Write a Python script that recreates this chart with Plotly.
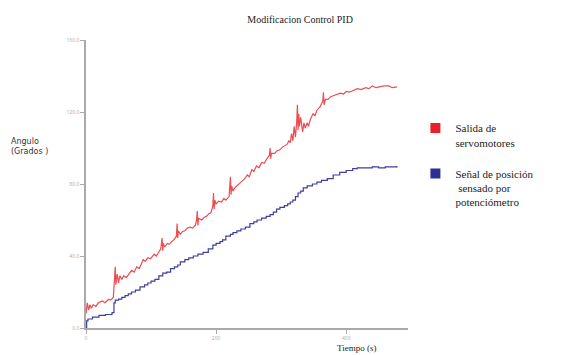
import plotly.graph_objects as go

# Red: Salida de servomotores (time s, angle deg)
red_t = [0, 2, 4, 6, 8, 11, 15, 19, 25, 29, 35, 38, 42, 44, 45, 46, 48, 50, 52, 55,
         58, 62, 66, 70, 74, 78, 82, 85, 88, 91, 95, 99, 105, 108, 112, 115, 117, 118,
         119, 121, 125, 128, 132, 135, 139, 140, 141, 142, 145, 148, 152, 156, 160, 164,
         168, 170, 171, 172, 173, 178, 182, 185, 189, 192, 195, 196, 197, 198, 200, 204,
         208, 212, 215, 220, 222, 223, 224, 226, 229, 232, 236, 240, 244, 248, 251, 255,
         258, 262, 266, 270, 274, 278, 282, 283, 284, 285, 290, 294, 298, 302, 305, 309,
         312, 314, 316, 318, 320, 322, 324, 325, 326, 327, 328, 330, 333, 335, 337, 340,
         342, 345, 349, 352, 355, 360, 364, 365, 366, 368, 372, 376, 380, 385, 391, 396,
         400, 405, 410, 417, 423, 430, 435, 440, 446, 452, 458, 465, 471, 478]
red_v = [8, 14, 10, 13, 11, 13, 12, 14, 15, 14, 16, 15.5, 17, 26, 34, 24, 30, 25, 29, 27,
         29, 28, 30, 32, 31, 34, 33, 36, 38, 37, 39, 38.5, 41, 40, 42, 44, 50, 43,
         47, 45, 47, 46.5, 48, 49, 51, 58, 50, 54, 52, 53.5, 54, 55.5, 56, 55.5,
         57, 60, 65, 57, 61, 60, 61.5, 62, 63.5, 64, 68, 75, 66, 71, 69, 70.5,
         70, 72, 71, 73, 84, 74, 79, 76, 78, 79, 80.5, 82, 83, 85, 84, 88,
         87, 90, 89, 92, 91.5, 94, 96, 100, 94, 97, 97, 98.5, 99, 100.5, 101, 102,
         104, 103, 108, 104, 112, 106, 115, 124, 110, 119, 112, 117, 109, 114, 111, 114,
         112, 116, 119, 118, 121, 123, 126, 131, 124, 127, 127, 128.5, 129, 129.5, 130.5, 130,
         131.5, 131, 132, 133, 132.5, 133.5, 133, 134.5, 133.5, 134, 134.5, 134.5, 133.5, 134]

# Blue: Señal de posición sensado por potenciómetro
blue_t = [0, 1, 3, 10, 20, 30, 40, 43, 45, 50, 55, 60, 65, 70, 76, 83, 90, 95, 100, 106,
          112, 118, 124, 130, 136, 141, 145, 152, 158, 165, 172, 180, 188, 195, 200, 206,
          210, 215, 222, 226, 232, 238, 245, 252, 258, 263, 270, 277, 283, 288, 293, 298,
          305, 310, 314, 318, 322, 326, 330, 334, 340, 348, 355, 362, 371, 380, 390, 400,
          410, 417, 430, 440, 450, 460, 470, 478]
blue_v = [0, 4, 5, 6, 7, 7.5, 8.5, 14, 15.5, 16, 17, 18, 19, 20, 21, 22.8, 24, 25, 26, 27,
          29, 30.5, 31, 33, 34, 35, 36.7, 38, 39, 40, 41, 42, 44, 46, 47, 48,
          49, 51, 52, 53, 54, 55, 56, 58, 59, 60, 61, 62, 63, 64.4, 66, 67,
          68, 69, 70, 71, 73, 75, 76, 77.8, 79, 80, 81, 82, 83, 85, 86.5, 87.5,
          88.5, 89, 89, 89.5, 89, 89.5, 89.5, 90]

y_ticks = [0, 40, 80, 120, 160]
y_ticklabels = ["0.0", "40.0", "80.0", "120.0", "160.0"]
x_ticks = [0, 200, 400]
x_ticklabels = ["0", "200", "400"]

red_name = "Salida de<br>servomotores"
blue_name = "Señal de posición<br> sensado por<br>potenciómetro"

RED = "#ee4c4f"
BLUE = "#3d3f9e"

fig = go.Figure()
fig.add_trace(go.Scatter(x=red_t, y=red_v, mode="lines",
                         line=dict(color=RED, width=1.2), showlegend=False))
fig.add_trace(go.Scatter(x=blue_t, y=blue_v, mode="lines", line_shape="hv",
                         line=dict(color=BLUE, width=1.2), showlegend=False))
# legend swatches
fig.add_trace(go.Scatter(x=[None], y=[None], mode="markers", name=red_name, legendgroup="a",
                         marker=dict(symbol="square", size=10, color="#e8202a")))
fig.add_trace(go.Scatter(x=[None], y=[None], mode="markers", name=blue_name, legendgroup="b",
                         marker=dict(symbol="square", size=10, color="#2b2f96")))

fig.update_layout(
    width=567, height=355,
    margin=dict(l=86, r=159, t=40, b=27, autoexpand=False),
    paper_bgcolor="white", plot_bgcolor="white",
    showlegend=True,
    legend=dict(x=1.023, y=0.742, xanchor="left", yanchor="top",
                font=dict(family="Liberation Serif", size=11, color="#222"),
                valign="top", tracegroupgap=14, itemwidth=30,
                bgcolor="rgba(0,0,0,0)"),
    title=dict(text="Modificacion Control PID", x=0.665, xref="paper", xanchor="center",
               y=0.945, yanchor="middle",
               font=dict(family="Liberation Serif", size=10, color="#222")),
)
fig.update_xaxes(range=[0, 495], tickvals=x_ticks, ticktext=x_ticklabels, automargin=False,
                 showgrid=False, zeroline=False, showline=True, linecolor="#aaa",
                 linewidth=1.5, ticks="outside", ticklen=4, tickcolor="#aaa",
                 tickfont=dict(size=5, color="#aaa"))
fig.update_yaxes(range=[0, 160], tickvals=y_ticks, ticktext=y_ticklabels, automargin=False,
                 showgrid=False, zeroline=False, showline=True, linecolor="#aaa",
                 linewidth=1.5, ticks="outside", ticklen=4, tickcolor="#aaa",
                 tickfont=dict(size=5, color="#aaa"))

fig.add_annotation(text="Angulo<br>(Grados )", xref="paper", yref="paper",
                   x=-0.24, y=0.63, xanchor="left", yanchor="middle", align="left",
                   showarrow=False, font=dict(family="DejaVu Sans", size=8, color="#333"))
fig.add_annotation(text="Tiempo (s)", xref="paper", yref="paper",
                   x=0.773, y=-0.07, xanchor="left", yanchor="middle",
                   showarrow=False, font=dict(family="Liberation Serif", size=9, color="#222"))

fig.write_html("out.html", config={"displayModeBar": False},
               post_script="document.body.style.margin='0';document.body.style.overflow='hidden';")
